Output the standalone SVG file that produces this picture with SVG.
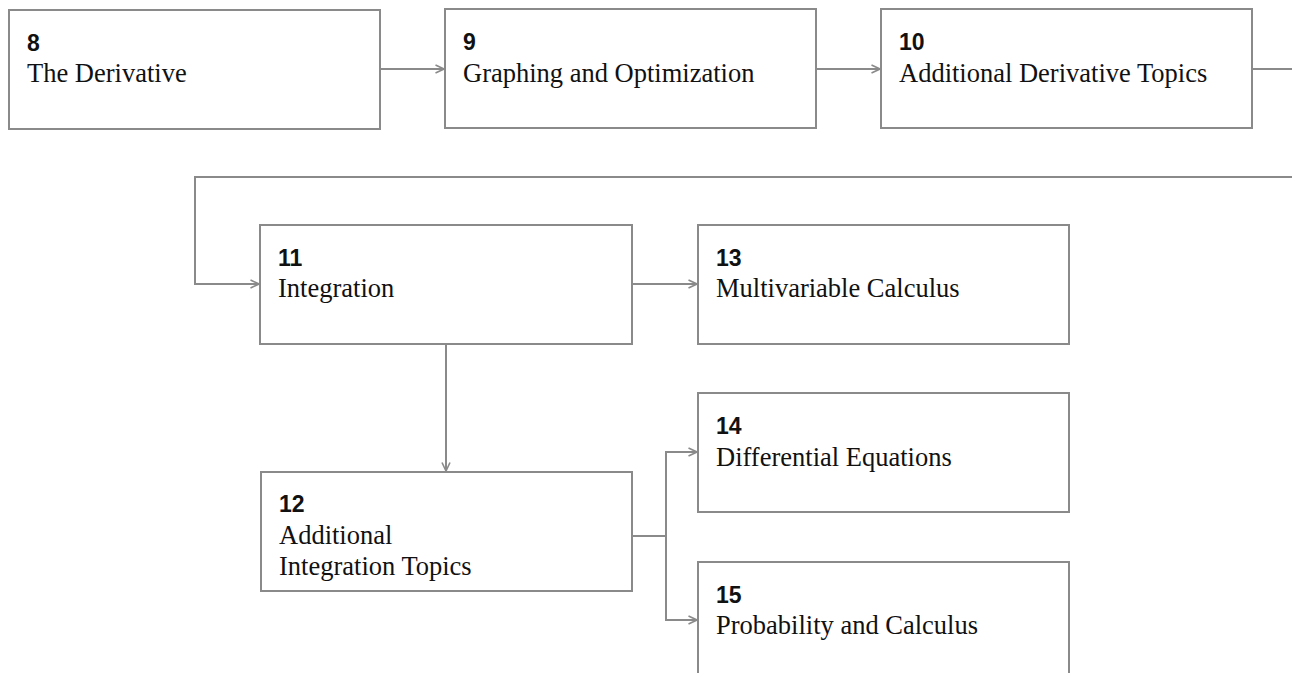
<svg xmlns="http://www.w3.org/2000/svg" width="1292" height="673" viewBox="0 0 1292 673">
<style>
.box{fill:#fff;stroke:#8a8a8a;stroke-width:2}
.num{font-family:"Liberation Sans",Arial,sans-serif;font-weight:bold;font-size:23px;fill:#111}
.ttl{font-family:"Liberation Serif","Times New Roman",serif;font-size:26.5px;fill:#111}
.wire{fill:none;stroke:#8a8a8a;stroke-width:2}
</style>
<defs>
<marker id="arr" viewBox="0 0 10 10" refX="9.5" refY="5" markerWidth="10" markerHeight="10" markerUnits="userSpaceOnUse" orient="auto">
<path d="M1,1 L9.5,5 L1,9" fill="none" stroke="#8a8a8a" stroke-width="1.6"/>
</marker>
</defs>
<rect width="1292" height="673" fill="#fff"/>
<g id="connectors">
<path class="wire" d="M380,69 H444" marker-end="url(#arr)"/>
<path class="wire" d="M816,69 H880" marker-end="url(#arr)"/>
<path class="wire" d="M1252,69 H1292"/>
<path class="wire" d="M1292,177 H195 V284 H259" marker-end="url(#arr)"/>
<path class="wire" d="M632,284 H697" marker-end="url(#arr)"/>
<path class="wire" d="M446,344 V471" marker-end="url(#arr)"/>
<path class="wire" d="M632,536 H666"/>
<path class="wire" d="M666,536 V452 H697" marker-end="url(#arr)"/>
<path class="wire" d="M666,536 V620 H697" marker-end="url(#arr)"/>
</g>
<g id="n8"><rect class="box" x="9" y="10" width="371" height="119"/><text class="num" x="27" y="51">8</text><text class="ttl" x="27" y="82">The Derivative</text></g>
<g id="n9"><rect class="box" x="445" y="9" width="371" height="119"/><text class="num" x="463" y="50">9</text><text class="ttl" x="463" y="82">Graphing and Optimization</text></g>
<g id="n10"><rect class="box" x="881" y="9" width="371" height="119"/><text class="num" x="899" y="50">10</text><text class="ttl" x="899" y="82">Additional Derivative Topics</text></g>
<g id="n11"><rect class="box" x="260" y="225" width="372" height="119"/><text class="num" x="278" y="266">11</text><text class="ttl" x="278" y="297">Integration</text></g>
<g id="n13"><rect class="box" x="698" y="225" width="371" height="119"/><text class="num" x="716" y="266">13</text><text class="ttl" x="716" y="297">Multivariable Calculus</text></g>
<g id="n12"><rect class="box" x="261" y="472" width="371" height="119"/><text class="num" x="279" y="512">12</text><text class="ttl" x="279" y="544">Additional</text><text class="ttl" x="279" y="575">Integration Topics</text></g>
<g id="n14"><rect class="box" x="698" y="393" width="371" height="119"/><text class="num" x="716" y="434">14</text><text class="ttl" x="716" y="466">Differential Equations</text></g>
<g id="n15"><rect class="box" x="698" y="562" width="371" height="119"/><text class="num" x="716" y="603">15</text><text class="ttl" x="716" y="634">Probability and Calculus</text></g>
</svg>
